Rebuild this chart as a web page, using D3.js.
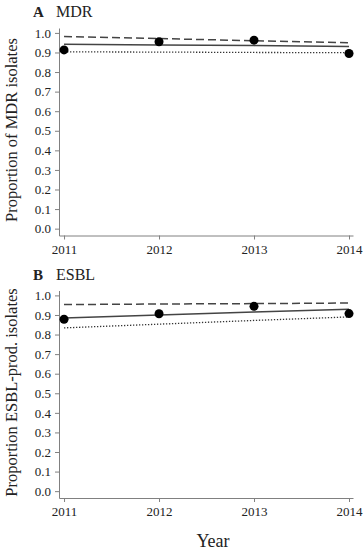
<!doctype html>
<html>
<head>
<style>
    body { margin: 0; background: #fff; }
    text { font-family: "Liberation Serif", "DejaVu Serif", serif; fill: #222; }
</style>
<script src="https://d3js.org/d3.v7.min.js"></script>
</head>
<body>

    <svg id="chart" width="364" height="550"></svg>

    <script>

        // Data
        var years = [2011, 2012, 2013, 2014];
        var yTicks = [0, 0.1, 0.2, 0.3, 0.4, 0.5, 0.6, 0.7, 0.8, 0.9, 1.0];

        // Panel A: MDR
        var mdrObserved = [0.913, 0.955, 0.963, 0.895];
        var mdrFit      = [0.942, 0.938, 0.935, 0.931];
        var mdrUpper    = [0.981, 0.971, 0.960, 0.950];
        var mdrLower    = [0.903, 0.902, 0.900, 0.899];

        // Panel B: ESBL
        var esblObserved = [0.878, 0.906, 0.944, 0.907];
        var esblFit      = [0.885, 0.900, 0.915, 0.929];
        var esblUpper    = [0.953, 0.956, 0.958, 0.961];
        var esblLower    = [0.834, 0.853, 0.872, 0.890];

        var panels = [
          { letter: "A", name: "MDR", ylabel: "Proportion of MDR isolates", top: 0,
            obs: mdrObserved, fit: mdrFit, upper: mdrUpper, lower: mdrLower },
          { letter: "B", name: "ESBL", ylabel: "Proportion ESBL-prod. isolates", top: 262.5,
            obs: esblObserved, fit: esblFit, upper: esblUpper, lower: esblLower }
        ];

        var svg = d3.select("#chart");

        var x = d3.scaleLinear().domain([2010.947, 2014.042]).range([59, 353]);

        panels.forEach(function (p) {
          var g = svg.append("g").attr("transform", "translate(0," + p.top + ")");
          var y = d3.scaleLinear().domain([-0.035, 1.025]).range([235.5, 28]);

          // axes
          var ya = g.append("g")
            .attr("transform", "translate(59,0)")
            .call(d3.axisLeft(y).tickValues(yTicks).tickSize(4).tickSizeOuter(0).tickPadding(4)
              .tickFormat(d3.format(".1f")));
          var xa = g.append("g")
            .attr("transform", "translate(0,235.5)")
            .call(d3.axisBottom(x).tickValues(years).tickSize(4).tickSizeOuter(0).tickPadding(5)
              .tickFormat(d3.format("d")));
          [ya, xa].forEach(function (a) {
            a.selectAll("path, line").attr("stroke", "#808080");
            a.selectAll("text").attr("font-size", 13).attr("fill", "#222")
              .style("font-family", "'Liberation Serif', serif");
          });

          var line = d3.line().x(function (d, i) { return x(years[i]); }).y(function (d) { return y(d); });

          g.append("path").datum(p.upper).attr("d", line)
            .attr("fill", "none").attr("stroke", "#444").attr("stroke-width", 1.5)
            .attr("stroke-dasharray", "8,4");
          g.append("path").datum(p.fit).attr("d", line)
            .attr("fill", "none").attr("stroke", "#444").attr("stroke-width", 1.5);
          g.append("path").datum(p.lower).attr("d", line)
            .attr("fill", "none").attr("stroke", "#333").attr("stroke-width", 1.3)
            .attr("stroke-dasharray", "1.3,1.7");

          g.selectAll("circle").data(p.obs).enter().append("circle")
            .attr("cx", function (d, i) { return x(years[i]); })
            .attr("cy", function (d) { return y(d); })
            .attr("r", 4.5)
            .attr("fill", "#000");

          // panel title
          g.append("text").attr("x", 33).attr("y", 17)
            .attr("font-size", 15).attr("font-weight", "bold").text(p.letter);
          g.append("text").attr("x", 56).attr("y", 17)
            .attr("font-size", 16).text(p.name);

          // y label
          g.append("text")
            .attr("transform", "translate(17," + 130 + ") rotate(-90)")
            .attr("text-anchor", "middle")
            .attr("font-size", 16.5)
            .text(p.ylabel);
        });

        svg.append("text").attr("x", 213).attr("y", 547)
          .attr("text-anchor", "middle").attr("font-size", 18).text("Year");

    </script>

</body>
</html>
